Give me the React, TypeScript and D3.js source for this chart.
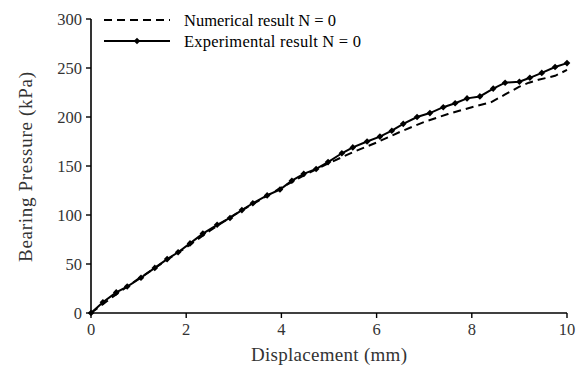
import React from "react";
import * as d3 from "d3";

const expDisp = [0, 0.25, 0.53, 0.76, 1.05, 1.34, 1.6, 1.83, 2.08, 2.35, 2.65, 2.92, 3.17, 3.4, 3.7, 3.97, 4.22, 4.47, 4.73, 4.98, 5.27, 5.5, 5.8, 6.07, 6.32, 6.56, 6.85, 7.12, 7.4, 7.65, 7.9, 8.17, 8.45, 8.7, 9.0, 9.22, 9.47, 9.75, 10.0];
const expPress = [0, 11, 21, 27, 36, 46, 55, 62, 71, 81, 90, 97, 105, 112, 120, 126, 135, 142, 147, 154, 163, 169, 175, 180, 186, 193, 200, 204, 210, 214, 219, 221, 229, 235, 236, 240, 245, 251, 255];

const numDisp = [0, 0.5, 1, 1.5, 2, 2.5, 3, 3.5, 4, 4.5, 5, 5.5, 6, 6.5, 7, 7.5, 8, 8.4, 8.7, 9.0, 9.2, 9.4, 9.75, 10];
const numPress = [0, 18, 35, 51, 67, 84, 100, 114, 128, 141, 153, 164, 174, 185, 195, 203, 210, 215, 223, 231, 235, 238, 242, 248];

const xTicks = [0, 2, 4, 6, 8, 10];
const yTicks = [0, 50, 100, 150, 200, 250, 300];
const legendLabels = ["Numerical result N = 0", "Experimental result N = 0"];

const W = 588, H = 374;
const L = 91, R = 567, T = 19, B = 313;
const font = "'Liberation Serif', 'Times New Roman', serif";
const txt = "#333";

export default function App() {
  const x = d3.scaleLinear().domain([0, 10]).range([L, R]);
  const y = d3.scaleLinear().domain([0, 300]).range([B, T]);
  const line = d3.line<[number, number]>().x(d => x(d[0])).y(d => y(d[1]));
  const expData = expDisp.map((d, i) => [d, expPress[i]] as [number, number]);
  const numData = numDisp.map((d, i) => [d, numPress[i]] as [number, number]);
  const diamond = (cx: number, cy: number, s = 3.3) =>
    `M${cx},${cy - s}L${cx + s},${cy}L${cx},${cy + s}L${cx - s},${cy}Z`;

  return (
    <svg width={W} height={H} style={{ position: "absolute", left: 0, top: 0, background: "#fff" }} fontFamily={font}>
      {/* axes */}
      <line x1={L} x2={L} y1={T} y2={B} stroke="#000" strokeWidth={1.6} />
      <line x1={L} x2={R} y1={B} y2={B} stroke="#000" strokeWidth={1.6} />
      {yTicks.map(t => (
        <g key={"y" + t}>
          <line x1={L - 5} x2={L} y1={y(t)} y2={y(t)} stroke="#000" strokeWidth={1.4} />
          <text x={L - 9} y={y(t)} dy="0.35em" textAnchor="end" fontSize={16.5} fill={txt}>{t}</text>
        </g>
      ))}
      {xTicks.map(t => (
        <g key={"x" + t}>
          <line x1={x(t)} x2={x(t)} y1={B} y2={B + 5} stroke="#000" strokeWidth={1.4} />
          <text x={x(t)} y={B + 22} textAnchor="middle" fontSize={16.5} fill={txt}>{t}</text>
        </g>
      ))}
      <text x={329} y={361} textAnchor="middle" fontSize={19} fill={txt} textLength={156} lengthAdjust="spacing">Displacement (mm)</text>
      <text transform={`translate(32,167) rotate(-90)`} textAnchor="middle" fontSize={19} fill={txt} textLength={190} lengthAdjust="spacing">Bearing Pressure (kPa)</text>

      {/* series */}
      <path d={line(numData) || ""} fill="none" stroke="#000" strokeWidth={2} strokeDasharray="8,5" />
      <path d={line(expData) || ""} fill="none" stroke="#000" strokeWidth={2} />
      {expData.map((d, i) => (
        <path key={i} d={diamond(x(d[0]), y(d[1]))} fill="#000" />
      ))}

      {/* legend */}
      <line x1={104} x2={170} y1={20} y2={20} stroke="#000" strokeWidth={2} strokeDasharray="8,5" />
      <text x={184} y={20} dy="0.35em" fontSize={16.5} fill="#000" textLength={152} lengthAdjust="spacing">{legendLabels[0]}</text>
      <line x1={104} x2={170} y1={41} y2={41} stroke="#000" strokeWidth={2} />
      <path d={diamond(137, 41)} fill="#000" />
      <text x={184} y={41} dy="0.35em" fontSize={16.5} fill="#000" textLength={177} lengthAdjust="spacing">{legendLabels[1]}</text>
    </svg>
  );
}
